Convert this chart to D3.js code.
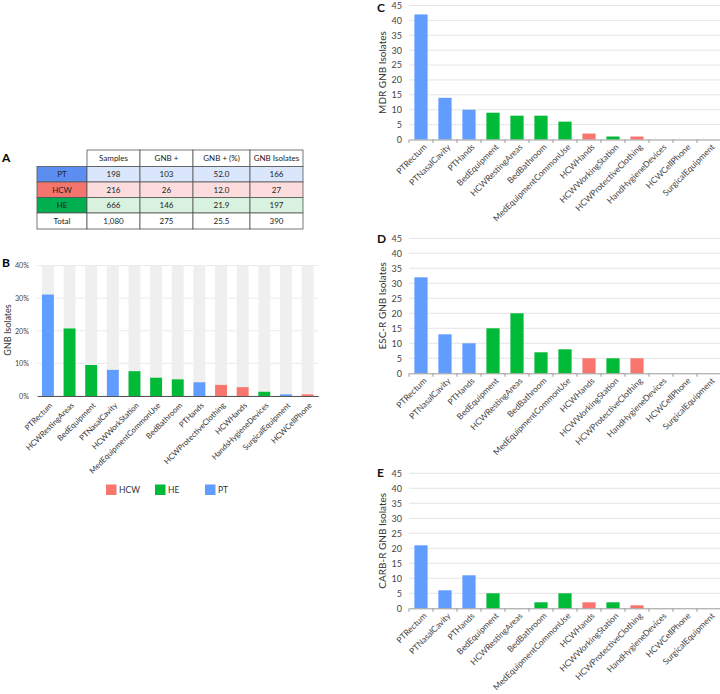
<!DOCTYPE html>
<html><head><meta charset="utf-8">
<script src="https://cdn.jsdelivr.net/npm/d3@7"></script>
<style>
body{margin:0;background:#fff;}
svg{display:block;}
</style></head>
<body><svg id="chart" width="720" height="694"></svg>
<script>
// ---------- Data ----------
const groups = ["HCW","HE","PT"];
const groupColors = ["#F8766D","#00BA38","#619CFF"];

// Table A
const tableCols = ["Samples","GNB +","GNB + (%)","GNB Isolates"];
const tableRows = ["PT","HCW","HE","Total"];
const samples = ["198","216","666","1,080"];
const gnbPos = ["103","26","146","275"];
const gnbPct = ["52.0","12.0","21.9","25.5"];
const gnbIso = ["166","27","197","390"];

// Panel B
const catsB = ["PTRectum","HCWRestingAreas","BedEquipment","PTNasalCavity","HCWWorkStation","MedEquipmentCommonUse","BedBathroom","PTHands","HCWProtectiveClothing","HCWHands","HandsHygieneDevices","SurgicalEquipment","HCWCellPhone"];
const valsB = [31.1,20.7,9.5,8.0,7.6,5.6,5.1,4.2,3.4,2.7,1.3,0.5,0.5];
const groupB = ["PT","HE","HE","PT","HE","HE","HE","PT","HCW","HCW","HE","PT","HCW"];
const ticksB = [0,10,20,30,40];

// Panels C, D, E
const catsCDE = ["PTRectum","PTNasalCavity","PTHands","BedEquipment","HCWRestingAreas","BedBathroom","MedEquipmentCommonUse","HCWHands","HCWWorkingStation","HCWProtectiveClothing","HandHygieneDevices","HCWCellPhone","SurgicalEquipment"];
const groupCDE = ["PT","PT","PT","HE","HE","HE","HE","HCW","HE","HCW","HE","HCW","HE"];
const mdrVals = [42,14,10,9,8,8,6,2,1,1,0,0,0];
const escrVals = [32,13,10,15,20,7,8,5,5,5,0,0,0];
const carbrVals = [21,6,11,5,0,2,5,2,2,1,0,0,0];
const ticksCDE = [0,5,10,15,20,25,30,35,40,45];

// ---------- Drawing ----------
const svg = d3.select("#chart");
const color = d3.scaleOrdinal().domain(groups).range(groupColors);
const FONT = "Lato, 'Open Sans', sans-serif";

// ===== Panel A: table =====
const gA = svg.append("g").attr("font-family",FONT);
gA.append("text").attr("x",2).attr("y",162).attr("font-size",12).attr("font-weight","bold").text("A");
const colEdges = [37,87,140,193,250,303];
const rowEdges = [150,166.5,182,197.5,213,229];
const rowBg = {PT:"#5b8ef0",HCW:"#f4756e",HE:"#00b050",Total:"#ffffff"};
const rowTint = {PT:"#dae6fc",HCW:"#fcdcdc",HE:"#d8f2df",Total:"#ffffff"};
const tableData = [samples,gnbPos,gnbPct,gnbIso];
tableCols.forEach((c,i)=>{
  gA.append("rect").attr("x",colEdges[i+1]).attr("y",rowEdges[0]).attr("width",colEdges[i+2]-colEdges[i+1]).attr("height",rowEdges[1]-rowEdges[0])
    .attr("fill","#fff").attr("stroke","#555").attr("stroke-width",0.8);
  gA.append("text").attr("x",(colEdges[i+1]+colEdges[i+2])/2).attr("y",(rowEdges[0]+rowEdges[1])/2).attr("dy","0.35em")
    .attr("text-anchor","middle").attr("font-size",8).attr("fill","#222").text(c);
});
tableRows.forEach((r,ri)=>{
  const y0=rowEdges[ri+1], y1=rowEdges[ri+2];
  gA.append("rect").attr("x",colEdges[0]).attr("y",y0).attr("width",colEdges[1]-colEdges[0]).attr("height",y1-y0)
    .attr("fill",rowBg[r]).attr("stroke","#555").attr("stroke-width",0.8);
  gA.append("text").attr("x",(colEdges[0]+colEdges[1])/2).attr("y",(y0+y1)/2).attr("dy","0.35em")
    .attr("text-anchor","middle").attr("font-size",8).attr("fill","#222").text(r);
  tableData.forEach((col,ci)=>{
    gA.append("rect").attr("x",colEdges[ci+1]).attr("y",y0).attr("width",colEdges[ci+2]-colEdges[ci+1]).attr("height",y1-y0)
      .attr("fill",rowTint[r]).attr("stroke","#555").attr("stroke-width",0.8);
    gA.append("text").attr("x",(colEdges[ci+1]+colEdges[ci+2])/2).attr("y",(y0+y1)/2).attr("dy","0.35em")
      .attr("text-anchor","middle").attr("font-size",8).attr("fill","#222").text(col[ri]);
  });
});

// ===== Panel B =====
const gB = svg.append("g").attr("font-family",FONT);
gB.append("text").attr("x",2).attr("y",267).attr("font-size",12).attr("font-weight","bold").text("B");
const xB = d3.scaleBand().domain(catsB).range([37.2,318.3]).paddingInner(0.45).paddingOuter(0.22);
const yB = d3.scaleLinear().domain([0,40]).range([396,265.5]);
gB.selectAll("line.grid").data(ticksB).join("line")
  .attr("x1",37).attr("x2",318).attr("y1",d=>yB(d)).attr("y2",d=>yB(d))
  .attr("stroke","#e6e6e6").attr("stroke-width",0.8);
gB.selectAll("rect.bg").data(catsB).join("rect")
  .attr("x",d=>xB(d)).attr("width",xB.bandwidth()).attr("y",yB(40)).attr("height",yB(0)-yB(40))
  .attr("fill","#efefef");
gB.selectAll("rect.bar").data(catsB).join("rect")
  .attr("x",d=>xB(d)).attr("width",xB.bandwidth())
  .attr("y",(d,i)=>yB(valsB[i])).attr("height",(d,i)=>yB(0)-yB(valsB[i]))
  .attr("fill",(d,i)=>color(groupB[i]));
const yAxisB = d3.axisLeft(yB).tickValues(ticksB).tickFormat(d=>d+"%").tickSize(0).tickPadding(8);
const gyB = gB.append("g").attr("transform","translate(37,0)").call(yAxisB);
gyB.select(".domain").remove();
gyB.selectAll("text").attr("font-size",7.2).attr("fill","#444").attr("font-family",FONT);
const xAxisB = d3.axisBottom(xB).tickSize(0).tickPadding(0);
const gxB = gB.append("g").attr("transform","translate(0,396)").call(xAxisB);
gxB.select(".domain").attr("stroke","#555").attr("stroke-width",1);
gxB.selectAll("text").attr("font-size",7.8).attr("fill","#333").attr("font-family",FONT)
  .attr("text-anchor","end").attr("dy","0.35em")
  .attr("transform","translate(3,8) rotate(-45)");
gB.append("text").attr("transform","translate(11,330) rotate(-90)").attr("text-anchor","middle")
  .attr("font-size",9).attr("fill","#333").text("GNB Isolates");
const legX = d3.scaleOrdinal().domain(groups).range([106,155,205]);
groups.forEach(g=>{
  gB.append("rect").attr("x",legX(g)).attr("y",484.5).attr("width",10.5).attr("height",10.5).attr("fill",color(g));
  gB.append("text").attr("x",legX(g)+13).attr("y",490).attr("dy","0.35em").attr("font-size",8.5).attr("fill","#333").text(g);
});

// ===== Panels C, D, E =====
function panelCDE(label, vals, title, yTop, yZero, labelY){
  const g = svg.append("g").attr("font-family",FONT);
  const x = d3.scaleBand().domain(catsCDE).range([409,721]).paddingInner(0.45).paddingOuter(0.225);
  const y = d3.scaleLinear().domain([0,45]).range([yZero,yTop]);
  g.selectAll("line.grid").data(ticksCDE.slice(1)).join("line")
    .attr("x1",409).attr("x2",720).attr("y1",d=>y(d)).attr("y2",d=>y(d))
    .attr("stroke","#dedede").attr("stroke-width",0.8);
  g.selectAll("rect.bar").data(catsCDE).join("rect")
    .attr("x",d=>x(d)).attr("width",x.bandwidth())
    .attr("y",(d,i)=>y(vals[i])).attr("height",(d,i)=>y(0)-y(vals[i]))
    .attr("fill",(d,i)=>color(groupCDE[i]));
  const gy = g.append("g").attr("transform","translate(409,0)")
    .call(d3.axisLeft(y).tickValues(ticksCDE).tickSize(0).tickPadding(7));
  gy.select(".domain").remove();
  gy.selectAll("text").attr("font-size",9).attr("fill","#444").attr("font-family",FONT);
  const gx = g.append("g").attr("transform",`translate(0,${yZero})`)
    .call(d3.axisBottom(x).tickSize(0).tickPadding(0));
  gx.select(".domain").attr("stroke","#999").attr("stroke-width",1);
  const step = x.step();
  g.selectAll("line.btick").data(d3.range(catsCDE.length+1)).join("line")
    .attr("x1",i=>409+i*step).attr("x2",i=>409+i*step).attr("y1",yZero).attr("y2",yZero+3.5)
    .attr("stroke","#999").attr("stroke-width",1);
  gx.selectAll("text").attr("font-size",8.5).attr("fill","#444").attr("font-family",FONT)
    .attr("text-anchor","end").attr("dy","0.35em")
    .attr("transform","translate(4,6) rotate(-45)");
  g.append("text").attr("x",377).attr("y",labelY).attr("font-size",12).attr("font-weight","bold").attr("fill","#111").text(label);
  g.append("text").attr("transform",`translate(386,${(yTop+yZero)/2}) rotate(-90)`).attr("text-anchor","middle")
    .attr("font-size",10).attr("fill","#333").text(title);
}
panelCDE("C", mdrVals, "MDR GNB Isolates", 5.5, 139.5, 12);
panelCDE("D", escrVals, "ESC-R GNB Isolates", 238.3, 373.3, 243);
panelCDE("E", carbrVals, "CARB-R GNB Isolates", 473.3, 608.3, 477);
</script></body></html>
